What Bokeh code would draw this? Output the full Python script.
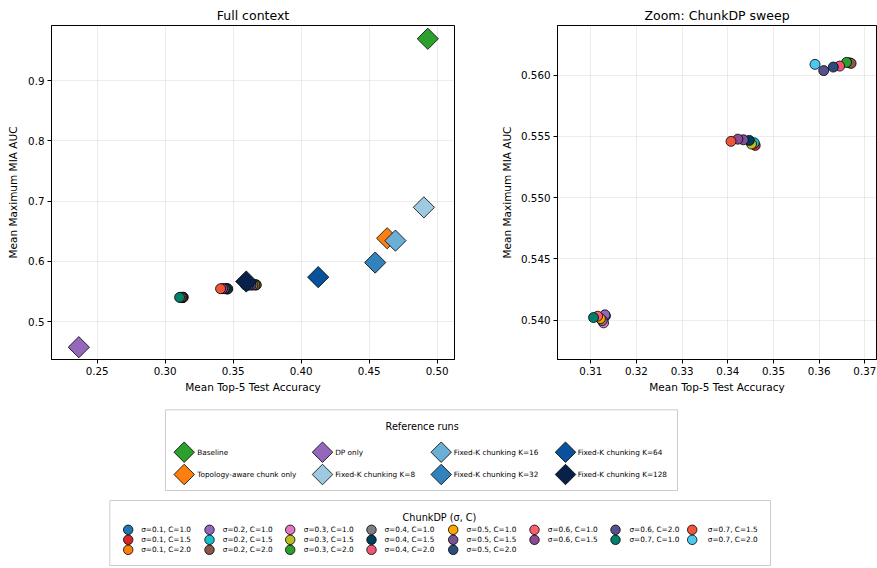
from bokeh.plotting import figure
from bokeh.models import Range1d, FixedTicker, NumeralTickFormatter, ColumnDataSource
from bokeh.layouts import column, row
from bokeh.embed import file_html
from bokeh.resources import INLINE
from bokeh.core.properties import value

FONT = "DejaVu Sans"

# ---------------- data ----------------
# ChunkDP sweep, in legend / drawing order
dp_sigma = [0.1, 0.1, 0.1, 0.2, 0.2, 0.2, 0.3, 0.3, 0.3, 0.4, 0.4, 0.4,
            0.5, 0.5, 0.5, 0.6, 0.6, 0.6, 0.7, 0.7, 0.7]
dp_clip = [1.0, 1.5, 2.0, 1.0, 1.5, 2.0, 1.0, 1.5, 2.0, 1.0, 1.5, 2.0,
           1.0, 1.5, 2.0, 1.0, 1.5, 2.0, 1.0, 1.5, 2.0]
dp_acc = [0.3132, 0.3460, 0.3666, 0.3131, 0.3458, 0.3670, 0.3128, 0.3452, 0.3660,
          0.3125, 0.3447, 0.3645, 0.3121, 0.3434, 0.3631, 0.3115, 0.3422, 0.3610,
          0.3106, 0.3407, 0.3591]
dp_auc = [0.54035, 0.55426, 0.56100, 0.54044, 0.55447, 0.56095, 0.53979, 0.55437, 0.56103,
          0.53998, 0.55467, 0.56073, 0.54014, 0.55472, 0.56065, 0.54033, 0.55477, 0.56036,
          0.54022, 0.55459, 0.56087]
dp_colors = ["#1f77b4", "#d62728", "#ff7f0e", "#9467bd", "#17becf", "#8c564b",
             "#e377c2", "#bcbd22", "#2ca02c", "#7f7f7f", "#003f5c", "#ef5675",
             "#ffa600", "#7a5195", "#2f4b7c", "#fa5f6e", "#8c4a91", "#58508d",
             "#00806a", "#f0553a", "#4cc9f0"]

# Reference runs
ref_names = ["Baseline", "Topology-aware chunk only", "DP only", "Fixed-K chunking K=8",
             "Fixed-K chunking K=16", "Fixed-K chunking K=32", "Fixed-K chunking K=64",
             "Fixed-K chunking K=128"]
ref_acc = [0.4931, 0.4632, 0.2365, 0.4902, 0.4693, 0.4544, 0.4125, 0.3596]
ref_auc = [0.9695, 0.6384, 0.4575, 0.6897, 0.6344, 0.5980, 0.5738, 0.5666]
ref_colors = ["#2ca02c", "#ff7f0e", "#9467bd", "#9ecae1", "#6baed6", "#3182bd",
              "#08519c", "#08214a"]

# ticks
full_x_ticks = [0.25, 0.30, 0.35, 0.40, 0.45, 0.50]
full_y_ticks = [0.5, 0.6, 0.7, 0.8, 0.9]
zoom_x_ticks = [0.31, 0.32, 0.33, 0.34, 0.35, 0.36, 0.37]
zoom_y_ticks = [0.540, 0.545, 0.550, 0.555, 0.560]

dp_labels = ["\u03c3=%.1f, C=%.1f" % (s, c) for s, c in zip(dp_sigma, dp_clip)]

dp_src = ColumnDataSource(dict(x=dp_acc, y=dp_auc, c=dp_colors))
ref_src = ColumnDataSource(dict(x=ref_acc, y=ref_auc, c=ref_colors))

TICK_FS = "10.3px"


def style(p, xt, yt, xfmt, yfmt, ystand):
    p.title.text_font = FONT
    p.title.text_font_size = "12.5px"
    p.title.text_font_style = "normal"
    p.title.align = "center"
    p.title.standoff = 6
    p.title.text_color = "black"
    p.outline_line_color = "black"
    p.outline_line_width = 1
    p.background_fill_color = "white"
    p.border_fill_color = "white"
    p.xaxis.ticker = FixedTicker(ticks=xt)
    p.yaxis.ticker = FixedTicker(ticks=yt)
    p.xaxis.formatter = NumeralTickFormatter(format=xfmt)
    p.yaxis.formatter = NumeralTickFormatter(format=yfmt)
    for ax in (p.xaxis[0], p.yaxis[0]):
        ax.axis_line_color = "black"
        ax.major_tick_line_color = "black"
        ax.major_tick_out = 4
        ax.major_tick_in = 0
        ax.minor_tick_line_color = None
        ax.major_label_text_font = FONT
        ax.major_label_text_font_size = TICK_FS
        ax.major_label_text_color = "black"
        ax.major_label_standoff = 3
        ax.axis_label_text_font = FONT
        ax.axis_label_text_font_size = "10.5px"
        ax.axis_label_text_font_style = "normal"
        ax.axis_label_text_color = "black"
    p.xaxis.axis_label_standoff = 3
    p.yaxis.axis_label_standoff = ystand
    p.xaxis.axis_label = "Mean Top-5 Test Accuracy"
    p.yaxis.axis_label = "Mean Maximum MIA AUC"
    p.grid.grid_line_color = "#b0b0b0"
    p.grid.grid_line_alpha = 0.3
    p.grid.grid_line_width = 0.8


p1 = figure(width=478, height=395, title="Full context", output_backend="svg",
            toolbar_location=None, x_range=Range1d(0.2164, 0.51272),
            y_range=Range1d(0.43711, 0.99152),
            min_border_left=51, min_border_right=24, min_border_top=25, min_border_bottom=35)
style(p1, full_x_ticks, full_y_ticks, "0.00", "0.0", 6)
p1.scatter("x", "y", source=dp_src, marker="circle", size=10, fill_color="c",
           line_color="black", line_width=0.8)
p1.scatter("x", "y", source=ref_src, marker="square", angle=0.7853981634, size=15,
           fill_color="c", line_color="black", line_width=0.8)

p2 = figure(width=399, height=395, title="Zoom: ChunkDP sweep", output_backend="svg",
            toolbar_location=None, x_range=Range1d(0.30271, 0.37256),
            y_range=Range1d(0.53680, 0.56404),
            min_border_left=79, min_border_right=1, min_border_top=25, min_border_bottom=35)
style(p2, zoom_x_ticks, zoom_y_ticks, "0.00", "0.000", 5)
p2.scatter("x", "y", source=dp_src, marker="circle", size=10, fill_color="c",
           line_color="black", line_width=0.8)

# ---------------- legends panel ----------------
LW, LH = 877, 173
leg = figure(width=LW, height=LH, output_backend="svg", toolbar_location=None,
             x_range=Range1d(0, LW), y_range=Range1d(LH, 0), min_border=0,
             x_axis_location=None, y_axis_location=None)
leg.grid.visible = False
leg.outline_line_color = None
leg.background_fill_color = "white"
leg.border_fill_color = "white"

# Reference runs legend
leg.quad(left=[165], right=[677], top=[14.3], bottom=[95], fill_color="white",
         line_color="#cccccc", line_width=1)
leg.text(x=[421.7], y=[30.7], text=["Reference runs"], text_font=value(FONT),
         text_font_size=value("9.7px"), text_align="center", text_baseline="middle",
         text_color="black")
r1_mx = [183.7, 322.0, 440.7, 565.0]
r1_tx = [196.7, 334.7, 453.3, 577.3]
r1_y = [56.7, 79.0]
mx, my, tx = [], [], []
for i in range(len(ref_names)):
    col, rw = i // 2, i % 2
    mx.append(r1_mx[col]); my.append(r1_y[rw]); tx.append(r1_tx[col])
leg.scatter(mx, my, marker="square", angle=0.7853981634, size=14.5, fill_color=ref_colors,
            line_color="black", line_width=0.8)
leg.text(x=tx, y=my, text=ref_names, text_font=value(FONT), text_font_size=value("7.3px"),
         text_align="left", text_baseline="middle", text_color="black")

# ChunkDP legend
leg.quad(left=[109.3], right=[770], top=[105], bottom=[170], fill_color="white",
         line_color="#cccccc", line_width=1)
leg.text(x=[439.0], y=[121.7], text=["ChunkDP (\u03c3, C)"], text_font=value(FONT),
         text_font_size=value("9.7px"), text_align="center", text_baseline="middle",
         text_color="black")
r2_mx = [127.7, 209.0, 289.7, 371.0, 452.7, 534.0, 615.0, 691.7]
r2_tx = [140.7, 222.3, 303.3, 384.0, 466.0, 547.3, 629.0, 707.3]
r2_y = [134.3, 144.3, 154.3]
mx, my, tx = [], [], []
for i in range(len(dp_labels)):
    if i < 15:
        col, rw = i // 3, i % 3
    else:
        col, rw = 5 + (i - 15) // 2, (i - 15) % 2
    mx.append(r2_mx[col]); my.append(r2_y[rw]); tx.append(r2_tx[col])
leg.scatter(mx, my, marker="circle", size=9.5, fill_color=dp_colors,
            line_color="black", line_width=0.8)
leg.text(x=tx, y=my, text=dp_labels, text_font=value(FONT), text_font_size=value("7.3px"),
         text_align="left", text_baseline="middle", text_color="black")

layout = column(row(p1, p2), leg)
open("out.html", "w").write(file_html(layout, INLINE))
